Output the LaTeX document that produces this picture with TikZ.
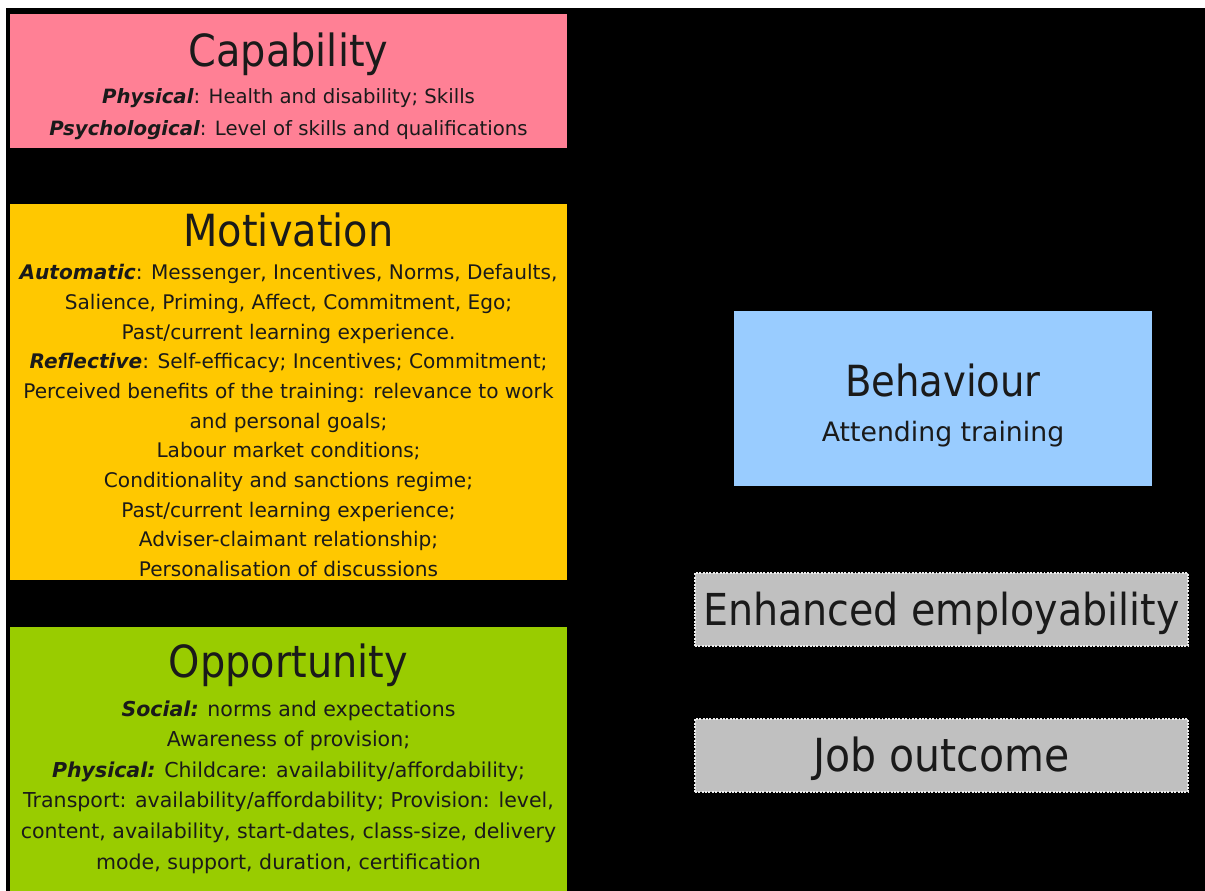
\documentclass[tikz,border=0pt]{standalone}
\usepackage{fontspec}
\setmainfont{DejaVu Sans}
\newfontfamily\headfont{DejaVu Sans Condensed}
\usetikzlibrary{positioning}

\definecolor{capfill}{HTML}{FF8095}
\definecolor{motfill}{HTML}{FFC800}
\definecolor{oppfill}{HTML}{99CC00}
\definecolor{behfill}{HTML}{99CCFF}
\definecolor{outfill}{HTML}{C0C0C0}
\definecolor{inkcol}{HTML}{1A1A1A}

\newcommand{\bigtitle}[1]{{\headfont\fontsize{31.5}{36}\selectfont #1}}
\newcommand{\kind}[1]{\textbf{\textit{#1}}}

\begin{document}
\begin{tikzpicture}[x=0.025cm,y=-0.025cm,
  factor/.style={rectangle,fill=#1,inner sep=0pt,minimum width=13.925cm},
  blurb/.style={text=inkcol,align=center,inner sep=0pt},
  result/.style={rectangle,fill=outfill,text=inkcol,align=center,inner sep=0pt,
    draw=white!85!gray,densely dotted,line width=1.4pt,
    text height=23pt,text depth=0pt,
    minimum width=12.325cm,minimum height=1.825cm}]

  % page and backdrop
  \useasboundingbox[fill=white] (0,0) rectangle (1205,891);
  \fill[black] (6,8) rectangle (1205,891);

  % COM factors on the left
  \node[factor=capfill,minimum height=3.35cm] (cap) at (288.5,81) {};
  \node[blurb,below=0.48cm of cap.north,
    font=\fontsize{14}{22.8}\selectfont] (captext)
    {\bigtitle{Capability}\\[3.3pt]
     \kind{Physical}: Health and disability; Skills\\
     \kind{Psychological}: Level of skills and qualifications};

  \node[factor=motfill,minimum height=9.4cm] (mot) at (288.5,392) {};
  \node[blurb,below=0.2325cm of mot.north,
    font=\fontsize{14.3}{21.1}\selectfont] (mottext)
    {\bigtitle{Motivation}\\[2.4pt]
     \kind{Automatic}: Messenger, Incentives, Norms, Defaults,\\
     Salience, Priming, Affect, Commitment, Ego;\\
     Past/current learning experience.\\
     \kind{Reflective}: Self-efficacy;\ Incentives; Commitment;\\
     Perceived benefits of the training: relevance to work\\
     and personal goals;\\
     Labour market conditions;\\
     Conditionality and sanctions regime;\\
     Past/current learning experience;\\
     Adviser-claimant relationship;\\
     Personalisation of\ discussions};

  \node[factor=oppfill,minimum height=6.85cm] (opp) at (288.5,764) {};
  \node[blurb,below=0.4325cm of opp.north,
    font=\fontsize{14.6}{21.8}\selectfont] (opptext)
    {\bigtitle{Opportunity}\\[5.3pt]
     \kind{Social:} norms and expectations\\
     Awareness of\ provision;\\
     \kind{Physical:} Childcare: availability/affordability;\\
     Transport: availability/affordability; Provision: level,\\
     content, availability, start-dates, class-size, delivery\\
     mode, support, duration, certification};

  % behaviour and its outcomes on the right
  \node[rectangle,fill=behfill,inner sep=0pt,
    minimum width=10.45cm,minimum height=4.375cm] (beh) at (943,398.5) {};
  \node[blurb,below=1.335cm of beh.north,
    font=\fontsize{19}{30}\selectfont] (behtext)
    {{\headfont\fontsize{30.5}{34}\selectfont Behaviour}\\[1.7pt] Attending\ training};

  \node[result,font=\headfont\fontsize{31.3}{36}\selectfont] (emp)
    at (941.5,609.5) {Enhanced\ employability};
  \node[result,font=\headfont\fontsize{32.4}{36}\selectfont] (job)
    at (941.5,755.5) {Job outcome};
\end{tikzpicture}
\end{document}
